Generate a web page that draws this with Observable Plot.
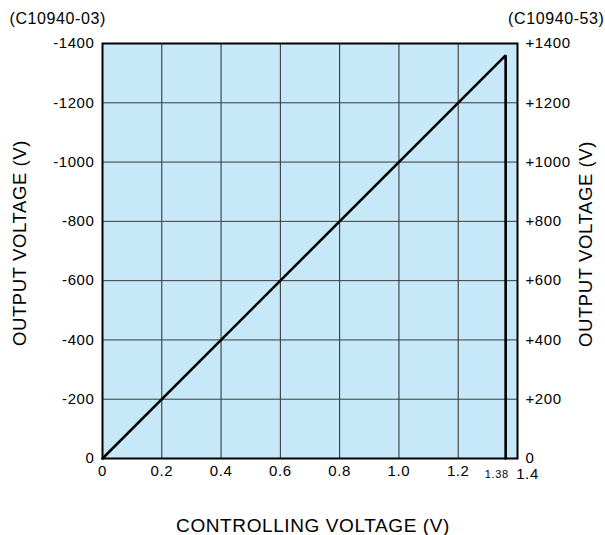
<!DOCTYPE html>
<html>
<head>
<meta charset="utf-8">
<script src="https://cdn.jsdelivr.net/npm/d3@7"></script>
<script src="https://cdn.jsdelivr.net/npm/@observablehq/plot@0.6"></script>
<style>
  html, body { margin: 0; padding: 0; background: #fff; }
  svg text { letter-spacing: 0.6px; }
  g[aria-label="ytitle"] text { letter-spacing: 0px; }
  g[aria-label="xtitle"] text { letter-spacing: 0.5px; }
  g[aria-label="toplabel"] text { letter-spacing: 0.7px; }
  g[aria-label="small-tick"] text { letter-spacing: 0px; }
</style>
</head>
<body>
<div id="chart"></div>
<script>
// Data
const ctrlVoltage = [0, 1.36, 1.36];
const outputVoltage = [0, 1360, 0];

const xTicks = [0, 0.2, 0.4, 0.6, 0.8, 1.0, 1.2];
const xTickLabels = ["0", "0.2", "0.4", "0.6", "0.8", "1.0", "1.2"];
const yTicks = [0, 200, 400, 600, 800, 1000, 1200, 1400];
const yLeftLabels = ["0", "-200", "-400", "-600", "-800", "-1000", "-1200", "-1400"];
const yRightLabels = ["0", "+200", "+400", "+600", "+800", "+1000", "+1200", "+1400"];
const endTickPos = [1.36];
const endTickLabel = ["1.38"];
const lastTickPos = [1.4];
const lastTickLabel = ["1.4"];

const lineData = ctrlVoltage.map((x, i) => ({x, y: outputVoltage[i]}));

const chart = Plot.plot({
  width: 605,
  height: 535,
  marginLeft: 102,
  marginRight: 88,
  marginTop: 43,
  marginBottom: 77,
  style: {fontFamily: "'Liberation Sans', Arial, sans-serif", fontSize: "15px", color: "#000", background: "#fff"},
  x: {domain: [0, 1.4]},
  y: {domain: [0, 1400]},
  marks: [
    Plot.frame({fill: "#c6e8f8", stroke: null}),
    Plot.gridX(xTicks.slice(1), {stroke: "#2a2a2a", strokeOpacity: 1, strokeWidth: 1}),
    Plot.gridY(yTicks.slice(1, -1), {stroke: "#3a3a3a", strokeOpacity: 1, strokeWidth: 1}),
    Plot.line(lineData, {x: "x", y: "y", stroke: "#000", strokeWidth: 2.6, strokeLinejoin: "miter"}),
    Plot.frame({stroke: "#000", strokeWidth: 2}),
    Plot.axisY(yTicks, {anchor: "left", tickSize: 0, tickPadding: 8, fontSize: 15,
      tickFormat: (d) => yLeftLabels[yTicks.indexOf(d)], label: null}),
    Plot.axisY(yTicks, {anchor: "right", tickSize: 0, tickPadding: 8, fontSize: 15,
      tickFormat: (d) => yRightLabels[yTicks.indexOf(d)], label: null}),
    Plot.axisX(xTicks, {anchor: "bottom", tickSize: 0, tickPadding: 7, fontSize: 15,
      tickFormat: (d) => xTickLabels[xTicks.indexOf(d)], label: null}),
    Plot.text(endTickPos, {x: d => d, frameAnchor: "bottom", text: (d, i) => endTickLabel[i],
      textAnchor: "end", lineAnchor: "top", dx: 3, dy: 12, fontSize: 11, ariaLabel: "small-tick"}),
    Plot.text(lastTickPos, {x: d => d, frameAnchor: "bottom", text: (d, i) => lastTickLabel[i],
      textAnchor: "middle", lineAnchor: "top", dx: 10, dy: 10, fontSize: 15}),
    Plot.text(["OUTPUT VOLTAGE (V)"], {frameAnchor: "left", rotate: -90, textAnchor: "middle",
      lineAnchor: "middle", dx: -82, dy: -8, fontSize: 18.5, ariaLabel: "ytitle"}),
    Plot.text(["OUTPUT VOLTAGE (V)"], {frameAnchor: "right", rotate: -90, textAnchor: "middle",
      lineAnchor: "middle", dx: 68.5, dy: -7, fontSize: 18.5, ariaLabel: "ytitle"}),
    Plot.text(["CONTROLLING VOLTAGE (V)"], {frameAnchor: "bottom", textAnchor: "middle",
      lineAnchor: "bottom", dx: 3, dy: 73, fontSize: 19, ariaLabel: "xtitle"}),
    Plot.text(["(C10940-03)"], {frameAnchor: "top-left", textAnchor: "start",
      lineAnchor: "bottom", dx: -93, dy: -20, fontSize: 16, ariaLabel: "toplabel"}),
    Plot.text(["(C10940-53)"], {frameAnchor: "top-right", textAnchor: "end",
      lineAnchor: "bottom", dx: 87, dy: -20, fontSize: 16, ariaLabel: "toplabel"})
  ]
});
document.getElementById("chart").append(chart);
</script>
</body>
</html>
